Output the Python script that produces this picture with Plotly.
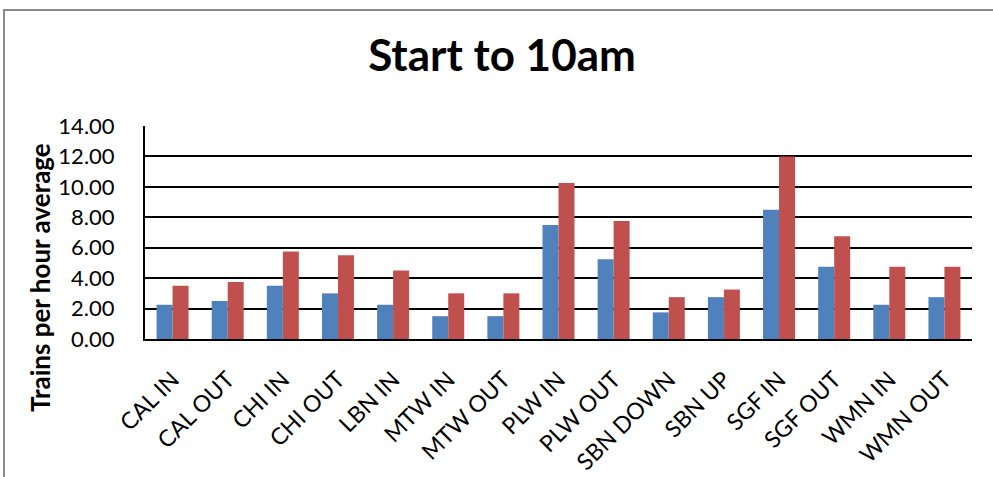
import plotly.graph_objects as go

# Station/direction categories and the two series of average trains per hour
stations = ["CAL IN", "CAL OUT", "CHI IN", "CHI OUT", "LBN IN", "MTW IN", "MTW OUT",
            "PLW IN", "PLW OUT", "SBN DOWN", "SBN UP", "SGF IN", "SGF OUT",
            "WMN IN", "WMN OUT"]
series_a = [2.25, 2.50, 3.50, 3.00, 2.25, 1.50, 1.50, 7.50, 5.25, 1.75, 2.75, 8.50, 4.75, 2.25, 2.75]
series_b = [3.50, 3.75, 5.75, 5.50, 4.50, 3.00, 3.00, 10.25, 7.75, 2.75, 3.25, 12.00, 6.75, 4.75, 4.75]
y_ticks = [0, 2, 4, 6, 8, 10, 12, 14]

W, H = 993, 477
L, R, T, B = 145, 21, 126, 138
pw, ph = W - L - R, H - T - B

fig = go.Figure()
fig.add_trace(go.Bar(x=stations, y=series_a, marker=dict(color="#4F81BD", line=dict(width=0)),
                     name="Series 1"))
fig.add_trace(go.Bar(x=stations, y=series_b, marker=dict(color="#C0504D", line=dict(width=0)),
                     name="Series 2"))


def px_x(p):
    return (p - L) / pw


def px_y(p):
    return (H - B - p) / ph


# outer chart frame (grey), running past the right and bottom edges
fig.add_shape(type="rect", xref="paper", yref="paper",
              x0=px_x(4), x1=px_x(1010), y0=px_y(500), y1=px_y(10),
              line=dict(color="#8A8A8A", width=2), fillcolor="rgba(0,0,0,0)", layer="below")

# vertical value-axis title, centred on the whole chart height
fig.add_annotation(text="<b>Trains per hour average</b>", textangle=-90,
                   xref="paper", yref="paper", x=px_x(40), y=px_y(278),
                   xanchor="center", yanchor="middle", showarrow=False,
                   font=dict(family="Lato", size=26, color="black"))

fig.update_layout(
    width=W, height=H,
    margin=dict(l=L, r=R, t=T, b=B, autoexpand=False),
    paper_bgcolor="white", plot_bgcolor="white",
    barmode="group", bargap=0.42, bargroupgap=0,
    showlegend=False,
    font=dict(family="Lato", color="black"),
    title=dict(text="<b>Start to 10am</b>", font=dict(family="Lato", size=44, color="black"),
               x=502 / W, xref="container", xanchor="center",
               y=1 - 56 / H, yref="container", yanchor="middle"),
    xaxis=dict(
        tickangle=-45, tickfont=dict(size=23, family="Lato"),
        showline=True, linecolor="black", linewidth=2,
        showgrid=False, ticks="", automargin=False, ticklabelstandoff=16,
    ),
    yaxis=dict(
        range=[0, 14], tickvals=y_ticks, tickformat=".2f",
        tickfont=dict(size=22, family="Lato"),
        showline=True, linecolor="black", linewidth=2,
        showgrid=True, gridcolor="black", gridwidth=2,
        zeroline=False, ticks="", ticklabelstandoff=24,
        automargin=False,
    ),
)

fig.write_html("out.html")
